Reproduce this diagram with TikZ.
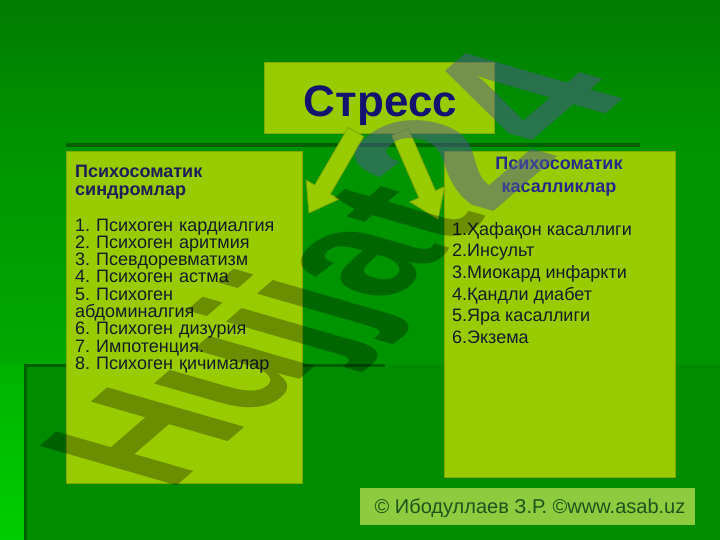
\documentclass[tikz,border=0pt]{standalone}
\usepackage{fontspec}
\setmainfont{Liberation Sans}
\usetikzlibrary{calc}
\frenchspacing
\definecolor{bgtop}{RGB}{0,124,0}
\definecolor{bgmid}{RGB}{0,148,0}
\definecolor{bglow}{RGB}{0,140,0}
\definecolor{sidea}{RGB}{0,148,0}
\definecolor{sideb}{RGB}{0,170,0}
\definecolor{stripa}{RGB}{0,178,0}
\definecolor{stripb}{RGB}{0,206,0}
\definecolor{darkline}{RGB}{0,96,0}
\definecolor{boxfill}{RGB}{153,204,0}
\definecolor{boxedge}{RGB}{128,168,0}
\definecolor{copyfill}{RGB}{142,203,62}
\definecolor{copytext}{RGB}{28,84,28}
\definecolor{titlenavy}{RGB}{20,20,112}
\definecolor{headnavy}{RGB}{30,30,90}
\definecolor{headblue}{RGB}{40,40,140}
\definecolor{listtext}{RGB}{20,28,40}
\definecolor{wmfour}{RGB}{80,90,150}
\newcommand{\blkarrow}[2]{%
  \coordinate (#1h) at ($(#2)!27pt!(#1)$);
  \draw[blockarrow] ($(#1)!9pt!90:(#2)$) -- ($(#1h)!9pt!-90:(#1)$) -- ($(#1h)!19pt!-90:(#1)$) -- (#2) -- ($(#1h)!19pt!90:(#1)$) -- ($(#1h)!9pt!90:(#1)$) -- ($(#1)!9pt!-90:(#2)$) -- cycle;}
\begin{document}
\begin{tikzpicture}[x=1pt,y=-1pt,
  panel/.style={draw=boxedge, line width=0.8pt, fill=boxfill, inner sep=0pt, anchor=north west},
  blockarrow/.style={draw=boxedge, line width=0.8pt, fill=boxfill, line join=miter},
  txt/.style={inner sep=0pt, align=left, anchor=north west},
  wm/.style={inner sep=0pt, anchor=base west, font=\bfseries\fontsize{115}{115}\selectfont},
  wmbig/.style={inner sep=0pt, anchor=base west, font=\bfseries\fontsize{132}{132}\selectfont},
]
\useasboundingbox (0,0) rectangle (720,540);
% background
\fill[top color=bgtop, bottom color=bgmid] (0,0) rectangle (720,148);
\fill[bgmid] (0,148) rectangle (720,540);
\fill[top color=sidea, bottom color=sideb] (0,148) rectangle (66,365);
\fill[bglow] (25,365) rectangle (720,540);
\fill[top color=stripa, bottom color=stripb] (0,365) rectangle (25,540);
\draw[darkline, line width=3pt] (25,540) -- (25,365) -- (385,365);
\draw[darkline, line width=4pt] (66,145) -- (640,145);
% panels
\node[panel, minimum width=230pt, minimum height=71pt] (stressbox) at (264,62) {};
\node[panel, minimum width=236pt, minimum height=332pt] (leftbox) at (66,151) {};
\node[panel, minimum width=231pt, minimum height=326pt] (rightbox) at (444,151) {};
\node[fill=copyfill, inner sep=0pt, anchor=north west, minimum width=335pt, minimum height=37pt] (copybox) at (360,488) {};
% arrows
\coordinate (la0) at (356,132);
\coordinate (la1) at (309,213);
\coordinate (ra0) at (400,132);
\coordinate (ra1) at (438,219);
\blkarrow{la0}{la1}
\blkarrow{ra0}{ra1}
% texts
\node[inner sep=0pt, anchor=base, text=titlenavy, font=\bfseries\fontsize{44}{48}\selectfont] (stresstxt) at (380.5,117) {Стресс};
\node[txt, text width=228pt, text=headnavy, font=\bfseries\fontsize{18}{17.6}\selectfont] (lhead) at (75,165) {Психосоматик\\синдромлар};
\node[txt, text width=228pt, text=listtext, font=\fontsize{18}{17.3}\selectfont] (llist) at (75,218.5) {1. Психоген кардиалгия\\2. Психоген аритмия\\3. Псевдоревматизм\\4. Психоген астма\\5. Психоген\\абдоминалгия\\6. Психоген дизурия\\7. Импотенция.\\8. Психоген қичималар};
\node[inner sep=0pt, align=center, anchor=north, text=headblue, font=\bfseries\fontsize{18}{23}\selectfont] (rhead) at (559,157) {Психосоматик\\касалликлар};
\node[txt, text=listtext, font=\fontsize{18}{21.6}\selectfont] (rlist) at (452,222) {1.Ҳафақон касаллиги\\2.Инсульт\\3.Миокард инфаркти\\4.Қандли диабет\\5.Яра касаллиги\\6.Экзема};
\node[inner sep=0pt, anchor=base, text=copytext, font=\fontsize{20}{24}\selectfont] (copytxt) at (530,513) {© Ибодуллаев З.Р. ©www.asab.uz};
% watermark
\begin{scope}[shift={(140,436)}, xscale=2, rotate=60, transform shape]
  \node[wm, text=black, text opacity=0.3] (wmA) at (-41.5,41) {Hujjat};
  \node[wmbig, text=wmfour, text opacity=0.5] (wmB) at (wmA.base east) {24};
\end{scope}
\end{tikzpicture}
\end{document}
